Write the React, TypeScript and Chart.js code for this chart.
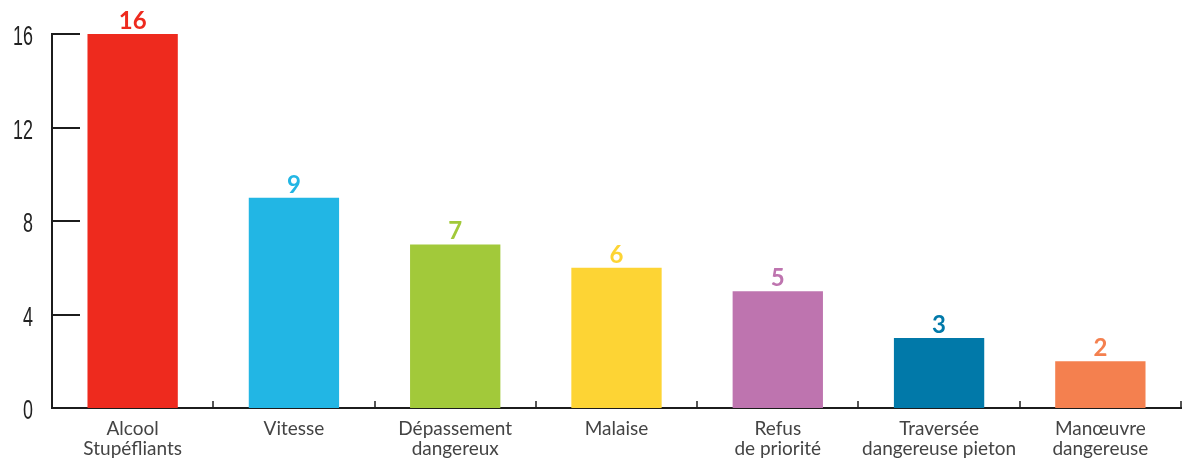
import React, { useEffect, useRef } from "react";
import { Chart, registerables } from "chart.js";

Chart.register(...registerables);

const categories: string[][] = [
  ["Alcool", "Stupéfliants"],
  ["Vitesse"],
  ["Dépassement", "dangereux"],
  ["Malaise"],
  ["Refus", "de priorité"],
  ["Traversée", "dangereuse pieton"],
  ["Manœuvre", "dangereuse"],
];
const values: number[] = [16, 9, 7, 6, 5, 3, 2];
const barColors: string[] = [
  "#EE2A1E",
  "#22B6E4",
  "#A2C93A",
  "#FDD434",
  "#BE74AF",
  "#0179A9",
  "#F4804F",
];
const yTicks: number[] = [0, 4, 8, 12, 16];

const AXIS = "#1c1c1c";

const decorPlugin = {
  id: "decor",
  afterDatasetsDraw(chart: any) {
    const ctx = chart.ctx;
    const x = chart.scales.x;
    const y = chart.scales.y;
    const area = chart.chartArea;
    ctx.save();
    ctx.strokeStyle = AXIS;
    // inward y ticks + condensed tick labels
    ctx.lineWidth = 2;
    yTicks.forEach((v) => {
      const py = Math.round(y.getPixelForValue(v));
      ctx.beginPath();
      ctx.moveTo(area.left, py);
      ctx.lineTo(area.left + 28, py);
      ctx.stroke();
      ctx.save();
      ctx.translate(33, py + 3);
      ctx.scale(0.64, 1);
      ctx.font = "28px 'Liberation Sans', Arial, sans-serif";
      ctx.fillStyle = "#222";
      ctx.textAlign = "right";
      ctx.textBaseline = "middle";
      ctx.fillText(String(v), 0, 0);
      ctx.restore();
    });
    // x category boundary ticks (upward)
    ctx.lineWidth = 1.5;
    for (let i = 0; i < categories.length; i++) {
      const px = Math.round(x.getPixelForValue(i + 0.5));
      ctx.beginPath();
      ctx.moveTo(px, area.bottom);
      ctx.lineTo(px, area.bottom - 7);
      ctx.stroke();
    }
    // value labels
    const meta = chart.getDatasetMeta(0);
    ctx.font = "bold 24px Lato, 'Noto Sans', sans-serif";
    ctx.textAlign = "center";
    ctx.textBaseline = "alphabetic";
    meta.data.forEach((bar: any, i: number) => {
      ctx.fillStyle = barColors[i];
      ctx.fillText(String(values[i]), bar.x, bar.y - 5);
    });
    ctx.restore();
  },
};

export default function App() {
  const ref = useRef<HTMLCanvasElement | null>(null);
  useEffect(() => {
    document.body.style.margin = "0";
    const chart = new Chart(ref.current as HTMLCanvasElement, {
      type: "bar",
      data: {
        labels: categories,
        datasets: [
          {
            data: values,
            backgroundColor: barColors,
            borderWidth: 0,
            barPercentage: 0.56,
            categoryPercentage: 1,
          },
        ],
      },
      options: {
        animation: false,
        responsive: true,
        maintainAspectRatio: false,
        layout: { padding: { top: 34, right: 2, left: 0, bottom: 0 } },
        plugins: {
          legend: { display: false },
          tooltip: { enabled: false },
        },
        scales: {
          x: {
            offset: true,
            grid: { display: false, drawTicks: false },
            border: { display: true, color: AXIS, width: 2 },
            ticks: {
              color: "#444",
              font: { family: "Lato, 'Noto Sans', sans-serif", size: 19, lineHeight: 1.1 },
              padding: 10,
              maxRotation: 0,
              autoSkip: false,
            },
            afterFit: (s: any) => {
              s.height = 50;
            },
          },
          y: {
            min: 0,
            max: 16,
            afterBuildTicks: (s: any) => {
              s.ticks = yTicks.map((v) => ({ value: v }));
            },
            grid: { display: false, drawTicks: false },
            border: { display: true, color: AXIS, width: 2 },
            ticks: { display: false },
            afterFit: (s: any) => {
              s.width = 52;
            },
          },
        },
      },
      plugins: [decorPlugin],
    });
    return () => chart.destroy();
  }, []);
  return (
    <div style={{ position: "fixed", left: 0, top: 0, width: 1183, height: 458 }}>
      <canvas ref={ref} />
    </div>
  );
}
